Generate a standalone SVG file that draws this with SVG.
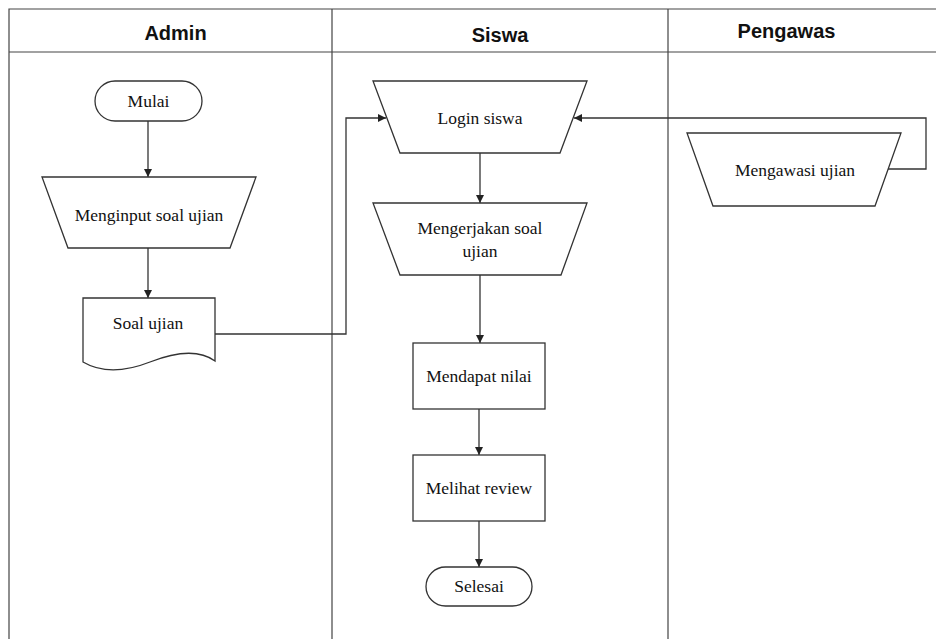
<svg xmlns="http://www.w3.org/2000/svg" width="936" height="639" viewBox="0 0 936 639">
<style>
.lane{fill:none;stroke:#444;stroke-width:1.2}
.hdr{font-family:"Liberation Sans",Arial,sans-serif;font-weight:bold;font-size:20px;fill:#111;text-anchor:middle}
.shape{fill:#fff;stroke:#333;stroke-width:1.3}
.lbl{font-family:"Liberation Serif","Times New Roman",serif;font-size:17.5px;fill:#111;text-anchor:middle}
.con{fill:none;stroke:#333;stroke-width:1.3}
</style>
<defs>
<marker id="arr" viewBox="0 0 10 10" refX="10" refY="5" markerWidth="8" markerHeight="8" orient="auto" markerUnits="userSpaceOnUse">
<path d="M0,0 L10,5 L0,10 z" fill="#222"/>
</marker>
</defs>
<rect width="936" height="639" fill="#fff"/>
<g id="swimlanes">
<path class="lane" d="M9,639 V9 H936 M9,52 H936 M332,9 V639 M668,9 V639"/>
<text class="hdr" x="175.5" y="40">Admin</text>
<text class="hdr" x="500" y="42">Siswa</text>
<text class="hdr" x="786.5" y="38">Pengawas</text>
</g>
<g id="connectors">
<path class="con" d="M148,121 V177" marker-end="url(#arr)"/>
<path class="con" d="M148,248 V298" marker-end="url(#arr)"/>
<path class="con" d="M215,334 H346 V118 H386" marker-end="url(#arr)"/>
<path class="con" d="M887,169 H926 V118 H574" marker-end="url(#arr)"/>
<path class="con" d="M480,153 V203" marker-end="url(#arr)"/>
<path class="con" d="M480,275 V343" marker-end="url(#arr)"/>
<path class="con" d="M479,409 V455" marker-end="url(#arr)"/>
<path class="con" d="M479,521 V567" marker-end="url(#arr)"/>
</g>
<g id="mulai">
<rect class="shape" x="95" y="81" width="107" height="40" rx="20"/>
<text class="lbl" x="148.5" y="107">Mulai</text>
</g>
<g id="menginput">
<path class="shape" d="M42,177 H256 L230,248 H68 Z"/>
<text class="lbl" x="149" y="221">Menginput soal ujian</text>
</g>
<g id="soal">
<path class="shape" d="M83,298 H215 V361 C200,350 178,351 150,362 C122,373 100,372 83,362 Z"/>
<text class="lbl" x="148" y="329">Soal ujian</text>
</g>
<g id="login">
<path class="shape" d="M373,81 H587 L560,153 H400 Z"/>
<text class="lbl" x="480" y="124">Login siswa</text>
</g>
<g id="mengerjakan">
<path class="shape" d="M373,203 H587 L561,275 H400 Z"/>
<text class="lbl" x="480" y="234">Mengerjakan soal</text>
<text class="lbl" x="480" y="257">ujian</text>
</g>
<g id="mendapat">
<rect class="shape" x="413" y="343" width="132" height="66"/>
<text class="lbl" x="479" y="382">Mendapat nilai</text>
</g>
<g id="melihat">
<rect class="shape" x="413" y="455" width="132" height="66"/>
<text class="lbl" x="479" y="494">Melihat review</text>
</g>
<g id="selesai">
<rect class="shape" x="426" y="567" width="106" height="39" rx="19.5"/>
<text class="lbl" x="479" y="592">Selesai</text>
</g>
<g id="mengawasi">
<path class="shape" d="M687,133 H901 L875,206 H713 Z"/>
<text class="lbl" x="795" y="176">Mengawasi ujian</text>
</g>
</svg>
